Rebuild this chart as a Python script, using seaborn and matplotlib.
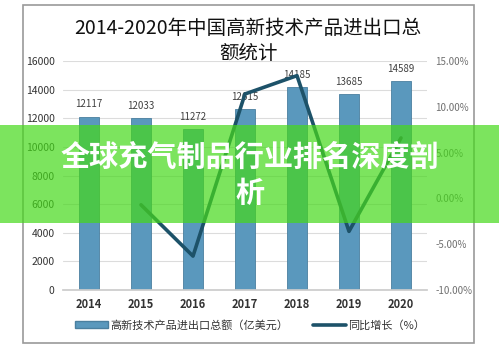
import matplotlib
matplotlib.use("Agg")
import matplotlib.pyplot as plt
import seaborn as sns
import numpy as np
import pandas as pd
from matplotlib.patches import Rectangle, Patch
from matplotlib.lines import Line2D

years = ["2014", "2015", "2016", "2017", "2018", "2019", "2020"]
totals = [12117, 12033, 11272, 12615, 14185, 13685, 14589]
growth_years = ["2015", "2016", "2017", "2018", "2019", "2020"]
growth = [-0.7, -6.3, 11.4, 13.4, -3.6, 6.6]
left_ticks = [0, 2000, 4000, 6000, 8000, 10000, 12000, 14000, 16000]
right_ticks = [-10, -5, 0, 5, 10, 15]

title = "2014-2020年中国高新技术产品进出口总\n额统计"
legend_bar = "高新技术产品进出口总额（亿美元）"
legend_line = "同比增长（%）"
banner = "全球充气制品行业排名深度剖\n析"

sns.set_theme(style="white")
plt.rcParams['font.family'] = ['Noto Sans CJK SC', 'DejaVu Sans']

fig = plt.figure(figsize=(4.99, 3.48), dpi=100)
fig.patch.set_facecolor("white")

# outer frame
fig.add_artist(Rectangle((23/499, 1-343/348), (474-23)/499, (343-5)/348,
                         transform=fig.transFigure, fill=False,
                         edgecolor="#9a9a9a", linewidth=1.2))

ax = fig.add_axes([63/499, 58/348, 364/499, 229/348])
df = pd.DataFrame({"year": years, "total": totals})
bar_color = "#5a98bd"
sns.barplot(data=df, x="year", y="total", color=bar_color, width=0.4,
            edgecolor="#4a7f9f", linewidth=0.6, ax=ax, saturation=1)
ax.set_ylim(0, 16000)
ax.set_xlim(-0.5, 6.5)
ax.set_yticks(left_ticks)
ax.set_yticklabels([str(t) for t in left_ticks], fontsize=7.5, color="#333333")
ax.set_xticks(range(len(years)))
ax.set_xticklabels(years, fontsize=8, fontweight="bold", color="#333333")
ax.tick_params(axis="both", length=0, pad=6)
ax.set_xlabel("")
ax.set_ylabel("")
ax.grid(axis="y", color="#dcdcdc", linewidth=0.8)
ax.set_axisbelow(True)
for s in ["top", "right", "left"]:
    ax.spines[s].set_visible(False)
ax.spines["bottom"].set_color("#cccccc")
for i, v in enumerate(totals):
    ax.text(i, v + 500, str(v), ha="center", va="bottom", fontsize=7,
            color="#404040")

ax2 = ax.twinx()
gx = [years.index(y) for y in growth_years]
sns.lineplot(x=gx, y=growth, color="#1d5269", linewidth=2.6, ax=ax2)
ax2.set_ylim(-10, 15)
ax2.set_xlim(-0.5, 6.5)
ax2.set_yticks(right_ticks)
ax2.set_yticklabels([f"{t:.2f}%" for t in right_ticks], fontsize=7,
                    color="#707070")
ax2.tick_params(axis="y", length=0, pad=6)
ax2.set_ylabel("")
for s in ["top", "right", "left", "bottom"]:
    ax2.spines[s].set_visible(False)

fig.text(248/499, 1-41/348, title, ha="center", va="center", fontsize=14,
         color="#111111", linespacing=1.2, fontweight="medium")

handles = [Patch(facecolor=bar_color, edgecolor="#4a7f9f"),
           Line2D([0], [0], color="#1d5269", linewidth=2.6)]
fig.legend(handles, [legend_bar, legend_line], loc="center",
           bbox_to_anchor=(250/499, 1-325/348), ncol=2, frameon=False,
           fontsize=8, handlelength=3, columnspacing=2.2, handletextpad=0.2,
           labelcolor="#333333")

# banner overlay
fig.add_artist(Rectangle((0, 1-223/348), 1, (223-125)/348,
                         transform=fig.transFigure, facecolor=(0.27, 0.85, 0.10),
                         alpha=0.7, edgecolor="none", zorder=10))
fig.text(250/499, 1-175/348, banner, ha="center", va="center", fontsize=21,
         fontweight="bold", color="white", linespacing=1.25, zorder=11)

fig.savefig("out.png", dpi=100)
